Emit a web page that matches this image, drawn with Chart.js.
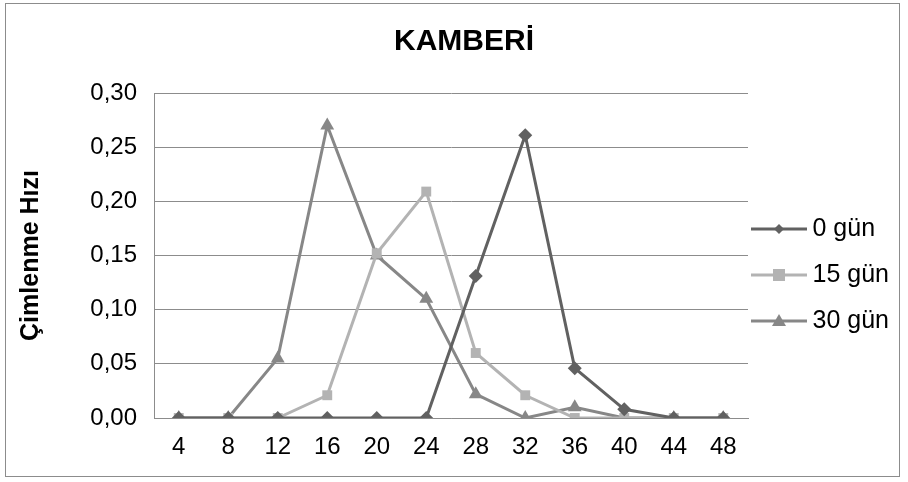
<!DOCTYPE html>
<html lang="tr">
<head>
    <meta charset="UTF-8">
    <title>KAMBERİ</title>
    <script src="https://cdn.jsdelivr.net/npm/chart.js"></script>
    <style>
        body { margin: 0; background: #fff; }
        #wrap { position: relative; width: 908px; height: 482px; }
    </style>
</head>
<body>
    <div id="wrap"><canvas id="kamberiChart" width="908" height="482"></canvas></div>

    <script>
        // data
        var hours = ['4', '8', '12', '16', '20', '24', '28', '32', '36', '40', '44', '48'];
        var gun0  = [0, 0, 0, 0, 0, 0, 0.131, 0.261, 0.046, 0.008, 0, 0];
        var gun15 = [0, 0, 0, 0.021, 0.152, 0.209, 0.060, 0.021, 0, 0, 0, 0];
        var gun30 = [0, 0, 0.055, 0.270, 0.150, 0.110, 0.022, 0, 0.010, 0, 0, 0];

        var FONT = "'Liberation Sans', Arial, sans-serif";

        // legend symbol: short line with the marker on it
        function legendIcon(color, style, r) {
            var c = document.createElement('canvas');
            c.width = 56; c.height = 18;
            var g = c.getContext('2d');
            g.strokeStyle = color; g.fillStyle = color; g.lineWidth = 3;
            g.beginPath(); g.moveTo(0, 9); g.lineTo(56, 9); g.stroke();
            g.beginPath();
            if (style === 'rectRot') {
                g.moveTo(28, 9 - r); g.lineTo(28 + r, 9); g.lineTo(28, 9 + r); g.lineTo(28 - r, 9);
            } else if (style === 'rect') {
                g.rect(28 - r, 9 - r, 2 * r, 2 * r);
            } else {
                g.moveTo(28, 9 - r); g.lineTo(28 + r, 9 + r * 0.7); g.lineTo(28 - r, 9 + r * 0.7);
            }
            g.closePath(); g.fill();
            return c;
        }

        var frame = {
            id: 'frame',
            afterLayout: function(chart) {
                // nudge title and legend to where Excel put them
                chart.titleBlock.left += 5;
                chart.titleBlock.right += 5;
                chart.legend.left -= 11;
                chart.legend.top += 34;
                chart.legend.bottom += 34;
            },
            beforeDraw: function(chart) {
                var ctx = chart.ctx;
                ctx.save();
                ctx.fillStyle = '#fff';
                ctx.fillRect(0, 0, chart.width, chart.height);
                ctx.strokeStyle = '#8c8c8c';
                ctx.lineWidth = 1;
                ctx.strokeRect(5.5, 3.5, 894, 473);
                ctx.restore();
            }
        };

        var series = [
            { label: '0 gün',  data: gun0,  color: '#616161', style: 'rectRot',  r: 7, lr: 5 },
            { label: '15 gün', data: gun15, color: '#b3b3b3', style: 'rect',     r: 7, lr: 6 },
            { label: '30 gün', data: gun30, color: '#878787', style: 'triangle', r: 8, lr: 7 }
        ];

        var ctx = document.getElementById('kamberiChart').getContext('2d');
        var kamberiChart = new Chart(ctx, {
            type: 'line',
            data: {
                labels: hours,
                datasets: series.map(function(s) {
                    return {
                        label: s.label,
                        data: s.data,
                        borderColor: s.color,
                        backgroundColor: s.color,
                        borderWidth: 3,
                        pointStyle: s.style,
                        pointRadius: s.r,
                        pointBorderWidth: 0,
                        tension: 0
                    };
                })
            },
            options: {
                responsive: false,
                animation: false,
                layout: { padding: { left: 10, right: 0, top: 0, bottom: 0 } },
                plugins: {
                    title: {
                        display: true,
                        text: 'KAMBERİ',
                        color: '#000',
                        font: { family: FONT, size: 30, weight: 'bold' },
                        padding: { top: 24, bottom: 33 }
                    },
                    legend: {
                        position: 'right',
                        maxWidth: 160,
                        labels: {
                            color: '#000',
                            font: { family: FONT, size: 25 },
                            usePointStyle: true,
                            pointStyleWidth: 42,
                            padding: 21,
                            generateLabels: function(chart) {
                                return series.map(function(s, i) {
                                    return {
                                        text: s.label,
                                        pointStyle: legendIcon(s.color, s.style, s.lr),
                                        fillStyle: s.color,
                                        strokeStyle: s.color,
                                        lineWidth: 0,
                                        datasetIndex: i
                                    };
                                });
                            }
                        }
                    },
                    tooltip: { enabled: false }
                },
                scales: {
                    x: {
                        offset: true,
                        grid: { display: false, drawTicks: false },
                        border: { color: '#8c8c8c' },
                        ticks: { color: '#000', font: { family: FONT, size: 24 }, padding: 15, maxRotation: 0 },
                        afterFit: function(scale) { scale.height = 64; }
                    },
                    y: {
                        min: 0,
                        max: 0.3,
                        grid: { color: '#8c8c8c', drawTicks: false },
                        border: { color: '#8c8c8c' },
                        ticks: {
                            stepSize: 0.05,
                            color: '#000',
                            padding: 17,
                            font: { family: FONT, size: 24 },
                            callback: function(v) { return v.toFixed(2).replace('.', ','); }
                        },
                        title: {
                            display: true,
                            text: 'Çimlenme Hızı',
                            color: '#000',
                            font: { family: FONT, size: 25, weight: 'bold' },
                            padding: { top: 6, bottom: 0 }
                        },
                        afterFit: function(scale) { scale.width = 144; }
                    }
                }
            },
            plugins: [frame]
        });
    </script>
</body>
</html>
